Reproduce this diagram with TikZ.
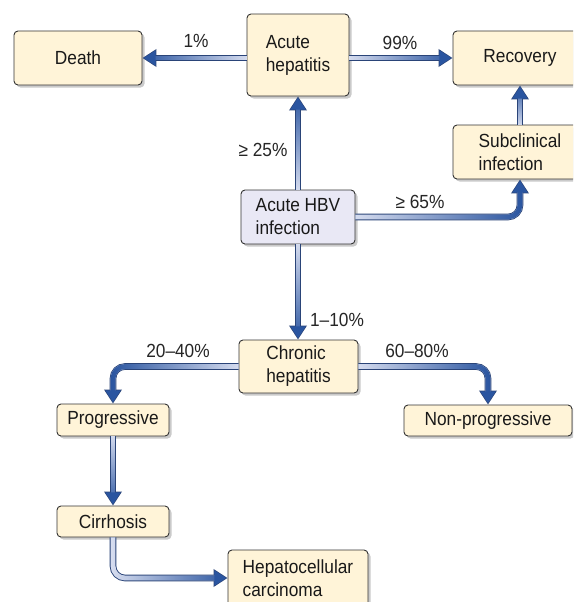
\documentclass[tikz,border=0pt]{standalone}
\usepackage{fontspec}
\setmainfont[FakeStretch=0.91]{Liberation Sans}
\usetikzlibrary{arrows.meta,shadows,fadings,calc}
\definecolor{cream}{HTML}{FFF4D8}
\definecolor{lav}{HTML}{E9E8F5}
\definecolor{boxline}{HTML}{333333}
\definecolor{arrdark}{HTML}{2A55A0}
\definecolor{arrout}{HTML}{2A4478}
\definecolor{arrlight}{HTML}{D8DEF0}
\tikzset{
  box/.style={draw=boxline, line width=0.9pt, fill=cream, rounded corners=4pt,
    drop shadow={shadow xshift=2.5pt, shadow yshift=-2.5pt, opacity=0.35, fill=black!60},
    font=\fontsize{19}{23}\selectfont, inner ysep=2pt, align=left, text=black!90},
  lbl/.style={font=\fontsize{19}{23}\selectfont, anchor=base, inner sep=0pt, text=black!85},
  connout/.style={line width=6.6pt, draw=arrout, rounded corners=12pt,
    -{Triangle[length=14pt,width=17pt]}},
  connin/.style={line width=4.8pt, draw=arrlight, rounded corners=12pt, shorten >=1.2pt,
    -{Triangle[length=12pt,width=14.5pt,color=arrdark]}},
  connfade/.style={line width=4.8pt, draw=arrdark, rounded corners=12pt, shorten >=12pt}
}
\newcommand{\gconn}[2]{%
  \draw[connout] #2;
  \draw[connin] #2;
  \draw[connfade, path fading=#1] #2;}
\begin{document}
\begin{tikzpicture}[x=1pt,y=-1pt]
\useasboundingbox (0,0) rectangle (573,602);
\clip (0,0) rectangle (573,602);
% boxes
\node[box, minimum width=128pt, minimum height=54pt] (death) at (78,58) {Death};
\node[box, minimum width=102pt, minimum height=82pt] (hep) at (298,55) {Acute\\hepatitis};
\node[box, minimum width=134pt, minimum height=54pt] (rec) at (520,58) {Recovery};
\node[box, minimum width=134pt, minimum height=54pt] (sub) at (520,152) {Subclinical\\infection};
\node[box, fill=lav, minimum width=114pt, minimum height=54pt] (hbv) at (298,217) {Acute HBV\\infection};
\node[box, minimum width=119pt, minimum height=53pt] (chr) at (298.5,366.5) {Chronic\\hepatitis};
\node[box, minimum width=112pt, minimum height=32pt] (prog) at (113,420) {Progressive};
\node[box, minimum width=168pt, minimum height=31pt] (nonp) at (488,420.5) {Non-progressive};
\node[box, minimum width=112pt, minimum height=31pt] (cirr) at (113,521.5) {Cirrhosis};
\node[box, minimum width=140pt, minimum height=56pt] (hcc) at (298,578) {Hepatocellular\\carcinoma};
% connectors
\gconn{east}{(hep.west |- death.east) -- (death.east)}
\gconn{west}{(hep.east |- rec.west) -- (rec.west)}
\gconn{south}{(hbv.north) -- (hep.south)}
\gconn{north}{(hbv.south) -- (hbv.south |- chr.north)}
\gconn{west}{(hbv.east) -| (sub.south)}
\gconn{south}{(sub.north) -- (rec.south)}
\gconn{east}{(chr.west) -| (prog.north)}
\gconn{west}{(chr.east) -| (nonp.north)}
\gconn{north}{(prog.south) -- (cirr.north)}
\gconn{west}{(cirr.south) |- (hcc.west)}
% labels
\node[lbl] (l1) at (196,48) {1\%};
\node[lbl] (l99) at (400,49) {99\%};
\node[lbl] (l25) at (263,156) {≥ 25\%};
\node[lbl] (l65) at (420,208) {≥ 65\%};
\node[lbl] (l110) at (337,326) {1–10\%};
\node[lbl] (l2040) at (178,357) {20–40\%};
\node[lbl] (l6080) at (417,357) {60–80\%};
\end{tikzpicture}
\end{document}
